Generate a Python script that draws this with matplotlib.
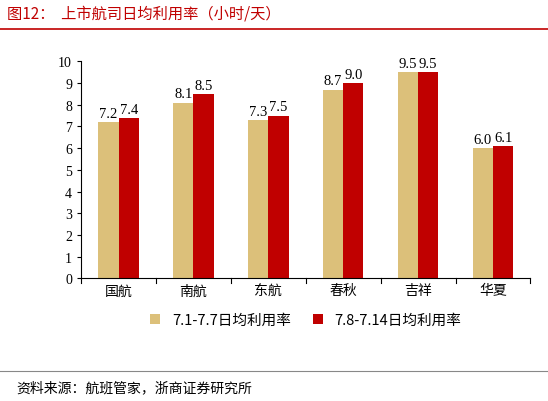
import matplotlib
matplotlib.use("Agg")
import matplotlib.pyplot as plt
import numpy as np

plt.rcParams['font.family'] = ['Noto Sans CJK SC', 'DejaVu Sans']

categories = ["国航", "南航", "东航", "春秋", "吉祥", "华夏"]
s1 = [7.2, 8.1, 7.3, 8.7, 9.5, 6.0]
s2 = [7.4, 8.5, 7.5, 9.0, 9.5, 6.1]
labels1 = ["7.2", "8.1", "7.3", "8.7", "9.5", "6.0"]
labels2 = ["7.4", "8.5", "7.5", "9.0", "9.5", "6.1"]
yticks = list(range(0, 11))

fig = plt.figure(figsize=(5.48, 4.02), dpi=100)
ax = fig.add_axes([0.148, 0.305, 0.82, 0.54])
x = np.arange(len(categories))
w = 0.27
c1, c2 = "#DCC07A", "#C00000"
ax.bar(x - w/2, s1, w, color=c1, label="7.1-7.7日均利用率")
ax.bar(x + w/2, s2, w, color=c2, label="7.8-7.14日均利用率")
for i in range(len(x)):
    ax.text(x[i] - w/2, s1[i] + 0.1, labels1[i], ha="center", va="bottom", fontsize=10.5, family=["Times New Roman", "Liberation Serif"])
    ax.text(x[i] + w/2, s2[i] + 0.1, labels2[i], ha="center", va="bottom", fontsize=10.5, family=["Times New Roman", "Liberation Serif"])
ax.set_ylim(0, 10)
ax.set_yticks(yticks)
ax.set_yticklabels([str(t) for t in yticks], family=["Liberation Serif"], fontsize=10)
ax.set_xlim(-0.5, 5.5)
ax.set_xticks(x)
ax.set_xticklabels(categories, fontsize=10)
for sp in ["top", "right"]:
    ax.spines[sp].set_visible(False)
ax.tick_params(axis="x", length=0)
ax.tick_params(axis="y", length=3)
for xb in np.arange(-0.5, 6, 1):
    ax.plot([xb, xb], [0, -0.2], color="black", lw=0.8, clip_on=False)
ax.legend(loc="upper center", bbox_to_anchor=(0.5, -0.1), ncol=2, frameon=False, fontsize=10.5, handlelength=0.7, handleheight=0.7, columnspacing=1.5)

fig.text(0.012, 0.965, "图12：  上市航司日均利用率（小时/天）", color="#C00000", fontsize=11, va="center")
fig.add_artist(plt.Line2D([0.0, 1.0], [0.925, 0.925], color="#C00000", lw=1.2))
fig.add_artist(plt.Line2D([0.0, 1.0], [0.075, 0.075], color="#888888", lw=0.8))
fig.text(0.03, 0.035, "资料来源：航班管家，浙商证券研究所", fontsize=10, va="center")
fig.savefig("out.png", dpi=100)
